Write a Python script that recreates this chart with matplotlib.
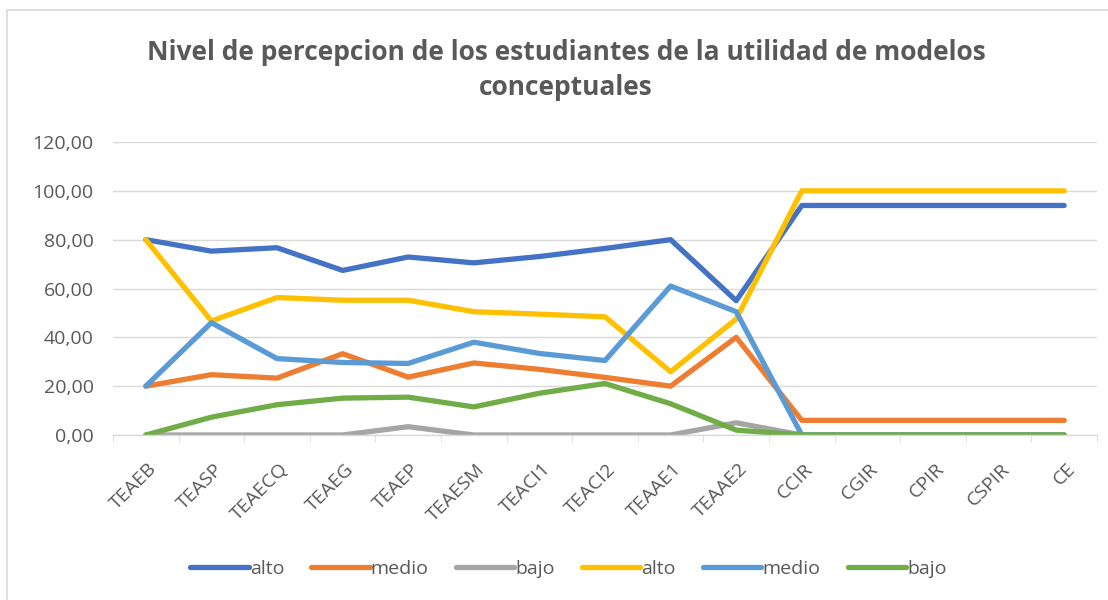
import matplotlib.pyplot as plt
import matplotlib.patches as mpatches
import matplotlib.transforms as mtransforms
from matplotlib.ticker import FuncFormatter, FixedLocator
import numpy as np

plt.rcParams['font.family'] = ['Open Sans', 'DejaVu Sans']

categories = ['TEAEB', 'TEASP', 'TEAECQ', 'TEAEG', 'TEAEP', 'TEAESM', 'TEACI1',
              'TEACI2', 'TEAAE1', 'TEAAE2', 'CCIR', 'CGIR', 'CPIR', 'CSPIR', 'CE']

alto_1 = [80.0, 75.3, 76.7, 67.4, 72.9, 70.5, 73.1, 76.4, 80.0, 55.0, 94.0, 94.0, 94.0, 94.0, 94.0]
medio_1 = [20.0, 24.7, 23.3, 33.3, 23.7, 29.5, 26.9, 23.6, 20.0, 40.0, 6.0, 6.0, 6.0, 6.0, 6.0]
bajo_1 = [0.0, 0.0, 0.0, 0.0, 3.4, 0.0, 0.0, 0.0, 0.0, 5.0, 0.0, 0.0, 0.0, 0.0, 0.0]
alto_2 = [80.0, 46.7, 56.3, 55.2, 55.2, 50.5, 49.5, 48.4, 25.9, 47.5, 100.0, 100.0, 100.0, 100.0, 100.0]
medio_2 = [20.0, 46.0, 31.3, 29.7, 29.3, 38.0, 33.4, 30.5, 61.0, 50.5, 0.0, 0.0, 0.0, 0.0, 0.0]
bajo_2 = [0.0, 7.3, 12.4, 15.1, 15.5, 11.5, 17.1, 21.1, 12.8, 2.0, 0.0, 0.0, 0.0, 0.0, 0.0]

series = [
    ('alto', alto_1, '#4472C4'),
    ('medio', medio_1, '#ED7D31'),
    ('bajo', bajo_1, '#A5A5A5'),
    ('alto', alto_2, '#FFC000'),
    ('medio', medio_2, '#5B9BD5'),
    ('bajo', bajo_2, '#70AD47'),
]

txt = '#595959'

fig = plt.figure(figsize=(11.08, 6.0), dpi=100)
ax = fig.add_axes([113 / 1108, 1 - 435 / 600, 984 / 1108, 293 / 600])

# chart border (only left/top visible in the reference)
fig.patches.append(mpatches.Rectangle((7 / 1108, -0.1), 1.2, 1 - 10 / 600 + 0.1,
                                      transform=fig.transFigure, fill=False,
                                      edgecolor='#d9d9d9', linewidth=1.2))

x = np.arange(len(categories))
for name, vals, col in series:
    ax.plot(x, vals, color=col, linewidth=3.8, label=name,
            solid_capstyle='round', solid_joinstyle='round')

ax.set_xlim(-0.5, len(categories) - 0.5)
ax.set_ylim(0, 120)
ax.set_yticks(np.arange(0, 121, 20))
ax.yaxis.set_major_formatter(FuncFormatter(lambda v, p: f'{v:.2f}'.replace('.', ',')))
ax.grid(axis='y', color='#d9d9d9', linewidth=1)
ax.set_axisbelow(True)

ax.set_xticks(x)
ax.set_xticklabels(categories, rotation=45, ha='right', rotation_mode='anchor')
ax.xaxis.set_minor_locator(FixedLocator(np.arange(-0.5, len(categories), 1)))
ax.tick_params(axis='x', which='major', length=0, pad=18, labelsize=14, labelcolor=txt)
ax.tick_params(axis='x', which='minor', length=5, color='#d9d9d9', direction='out')
ax.tick_params(axis='y', length=0, pad=14, labelsize=14, labelcolor=txt)
shift = mtransforms.ScaledTranslation(2 / 100, 0, fig.dpi_scale_trans)
for lab in ax.get_xticklabels():
    lab.set_transform(lab.get_transform() + shift)

for s in ['top', 'right', 'left']:
    ax.spines[s].set_visible(False)
ax.spines['bottom'].set_color('#d9d9d9')
ax.spines['bottom'].set_linewidth(1)

fig.text(0.511, 1 - 39 / 600, 'Nivel de percepcion de los estudiantes de la utilidad de modelos\nconceptuales',
         ha='center', va='top', fontsize=19, fontweight='bold', color=txt, linespacing=1.4)

leg = fig.legend(loc='center', bbox_to_anchor=(0.513, 1 - 569 / 600), ncol=6, frameon=False,
                 fontsize=14, handlelength=3.0, handletextpad=0.05, columnspacing=1.4,
                 labelcolor=txt)

fig.savefig('out.png', dpi=100, facecolor='white')
